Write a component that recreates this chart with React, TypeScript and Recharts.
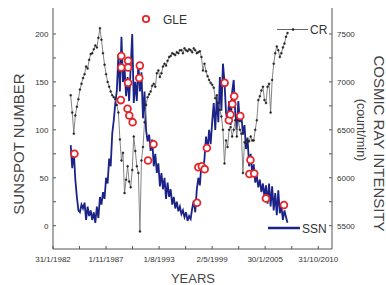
import { ComposedChart, Line, Scatter, XAxis, YAxis } from 'recharts'

// monthly-ish samples, one every 2 months starting 1984.0
const START_YEAR = 1984.0
const STEP = 1 / 6

const SSN = [
  84, 60, 78, 48, 30, 16, 14, 22, 18, 24, 6, 20, 10, 16, 6, 14, 3, 20, 8, 30,
  22, 35, 28, 50, 44, 70, 62, 96, 110, 128, 141, 178, 140, 197, 150, 165, 135, 155, 130, 165,
  200, 128, 150, 130, 169, 140, 160, 112, 140, 100, 88, 95, 78, 90, 62, 75, 55, 65, 41, 55,
  38, 50, 28, 45, 30, 38, 22, 30, 18, 25, 15, 20, 12, 16, 9, 14, 5, 10, 7, 18,
  26, 14, 38, 50, 42, 65, 56, 70, 93, 78, 100, 85, 108, 128, 100, 135, 108, 155, 120, 169,
  150, 118, 108, 130, 105, 140, 152, 118, 100, 130, 108, 115, 95, 105, 80, 92, 62, 75, 55, 64,
  45, 52, 40, 48, 35, 44, 30, 42, 23, 44, 20, 41, 16, 34, 11, 37, 13, 20, 6, 16,
  9, 3,
]

const CR = [
  6860, 6680, 6460, 6650, 6740, 6820, 6920, 6980, 7040, 7080, 7160, 7140, 7230, 7290, 7300, 7340, 7380, 7360, 7460, 7560,
  7440, 7300, 7180, 7080, 7000, 6950, 6900, 6860, 6840, 6820, 6760, 6680, 6400, 6180, 6260, 5840, 5980, 6120, 5960, 5900,
  6080, 6430, 6280, 6120, 6050, 5440, 6180, 6320, 6580, 6760, 6840, 6870, 6900, 6960, 6980, 6950, 7090, 7120, 7050, 7090,
  7160, 7190, 7170, 7220, 7260, 7270, 7300, 7290, 7280, 7310, 7300, 7330, 7330, 7300, 7350, 7330, 7320, 7340, 7330, 7310,
  7350, 7330, 7300, 7310, 7320, 7260, 7120, 7190, 7110, 7060, 7020, 6990, 6970, 6940, 6830, 6860, 6780, 6710, 6640, 6500,
  6150, 6390, 6320, 6500, 6530, 6430, 6500, 6600, 6430, 6600, 6500, 6460, 6050, 6370, 6360, 6390, 6380, 6430, 6390, 6390,
  6500, 6600, 6810, 6850, 6910, 6950, 6810, 6780, 6950, 6980, 6680, 7020, 7190, 7300, 7370, 7330, 7260, 7300, 7360, 7400,
  7470, 7510,
]

// ground level enhancement events, plotted at the sunspot number of the month
const GLE_YEARS = [
  1984.4, 1989.48, 1989.48, 1989.43, 1990.22, 1990.22, 1990.22, 1990.16, 1990.35, 1990.71,
  1991.49, 1991.43, 1992.38, 1992.97, 1997.69, 1997.83, 1998.21, 1998.52, 1998.76, 2000.68,
  2001.14, 2001.31, 2001.52, 2001.72, 2002.38, 2003.37, 2003.48, 2003.89, 2005.16, 2007.11,
]
const GLE_SSN = [
  75, 177, 165, 131, 172, 165, 149, 122, 115, 108,
  167, 154, 68, 85, 24, 61, 62, 59, 81, 149,
  110, 116, 127, 135, 114.5, 54, 68.5, 54.5, 28.5, 21.6,
]

const MAJOR_YEARS = [1982.08, 1987.83, 1993.58, 1999.33, 2005.08, 2010.83]
const MAJOR_LABELS = ['31/1/1982', '1/11/1987', '1/8/1993', '2/5/1999', '30/1/2005', '31/10/2010']
const MINOR_YEARS = [1984.955, 1990.705, 1996.455, 2002.205, 2007.955]
const SSN_TICKS = [0, 25, 50, 75, 100, 125, 150, 175, 200]
const CR_TICKS = [5500, 5750, 6000, 6250, 6500, 6750, 7000, 7250, 7500]

const ssnData = SSN.map((v, i) => ({ year: START_YEAR + i * STEP, ssn: v }))
const crData = CR.map((v, i) => ({ year: START_YEAR + i * STEP, cr: v }))
const gleData = GLE_YEARS.map((y, i) => ({ year: y, ssn: GLE_SSN[i] }))

const FONT = '"Liberation Sans", Arial, sans-serif'
const AXIS = '#555'
const BLUE = '#1b2288'
const RED = '#e3262b'

const xTicks = [...MAJOR_YEARS, ...MINOR_YEARS].sort((a, b) => a - b)

function formatYear(v: number): string {
  const idx = MAJOR_YEARS.indexOf(v)
  return idx >= 0 ? MAJOR_LABELS[idx] : ''
}

function GleMark(props: any) {
  const { cx, cy } = props
  if (cx == null || cy == null) return null
  return <circle cx={cx} cy={cy} r={3.4} fill="#fff" stroke={RED} strokeWidth={1.8} />
}

export default function App() {
  return (
    <div style={{ position: 'relative', width: 386, height: 285, fontFamily: FONT }}>
      <style>{'body{margin:0}'}</style>
      <ComposedChart width={386} height={285} margin={{ top: 8, right: 0, bottom: 0, left: 0 }}>
        <XAxis
          dataKey="year"
          type="number"
          domain={[1982.08, 2012.32]}
          allowDataOverflow
          ticks={xTicks}
          interval={0}
          tickFormatter={formatYear}
          tick={{ fontSize: 8, fill: '#333' }}
          tickSize={-3}
          tickMargin={10.5}
          stroke={AXIS}
          height={36}
        />
        <XAxis
          xAxisId="top"
          dataKey="year"
          type="number"
          orientation="top"
          domain={[1982.08, 2012.32]}
          tick={false}
          tickLine={false}
          stroke={AXIS}
          height={0}
        />
        <YAxis
          yAxisId="ssn"
          type="number"
          domain={[-24.3, 227.1]}
          allowDataOverflow
          ticks={SSN_TICKS}
          interval={0}
          tickFormatter={(v: number) => (v % 50 === 0 ? String(v) : '')}
          tick={{ fontSize: 8, fill: '#333' }}
          tickSize={-3}
          tickMargin={7.5}
          stroke={AXIS}
          width={53}
        />
        <YAxis
          yAxisId="cr"
          orientation="right"
          type="number"
          domain={[5257, 7771]}
          allowDataOverflow
          ticks={CR_TICKS}
          interval={0}
          tickFormatter={(v: number) => (v % 500 === 0 ? String(v) : '')}
          tick={{ fontSize: 8, fill: '#333', textAnchor: 'start' }}
          tickSize={-3}
          tickMargin={8}
          stroke={AXIS}
          width={54}
        />
        <Line
          yAxisId="ssn"
          data={ssnData}
          dataKey="ssn"
          type="linear"
          stroke={BLUE}
          strokeWidth={1.8}
          dot={false}
          isAnimationActive={false}
        />
        <Line
          yAxisId="cr"
          data={crData}
          dataKey="cr"
          type="linear"
          stroke="#777"
          strokeWidth={0.9}
          dot={{ r: 1, fill: '#222', stroke: '#222', strokeWidth: 0.4 }}
          isAnimationActive={false}
        />
        <Scatter
          yAxisId="ssn"
          data={gleData}
          dataKey="ssn"
          shape={GleMark}
          isAnimationActive={false}
        />
      </ComposedChart>
      <svg
        width={386}
        height={285}
        style={{ position: 'absolute', left: 0, top: 0, pointerEvents: 'none' }}
        fontFamily={FONT}
      >
        {/* legend */}
        <circle cx={146} cy={19} r={3.2} fill="#fff" stroke={RED} strokeWidth={1.8} />
        <text x={163} y={24} fontSize={12} fill="#333">GLE</text>
        <line x1={277} y1={29.5} x2={308} y2={29.5} stroke="#666" strokeWidth={1} />
        <circle cx={293} cy={29.5} r={1.3} fill="#222" />
        <text x={310} y={34} fontSize={12} fill="#333">CR</text>
        <line x1={268} y1={228} x2={300} y2={228} stroke={BLUE} strokeWidth={2.5} />
        <text x={302} y={233} fontSize={12} fill="#333">SSN</text>
        {/* axis titles */}
        <text x={24} y={144} fontSize={15} fill="#444" textAnchor="middle" transform="rotate(-90 24 144)">
          SUNSPOT NUMBER
        </text>
        <text x={373.5} y={143.5} fontSize={15} fill="#444" textAnchor="middle" transform="rotate(90 373.5 143.5)">
          COSMIC RAY INTENSITY
        </text>
        <text x={357} y={130} fontSize={12.5} fill="#444" textAnchor="middle" transform="rotate(90 357 130)">
          (count/min)
        </text>
        <text x={193} y={283} fontSize={13} fill="#444" textAnchor="middle">YEARS</text>
      </svg>
    </div>
  )
}
